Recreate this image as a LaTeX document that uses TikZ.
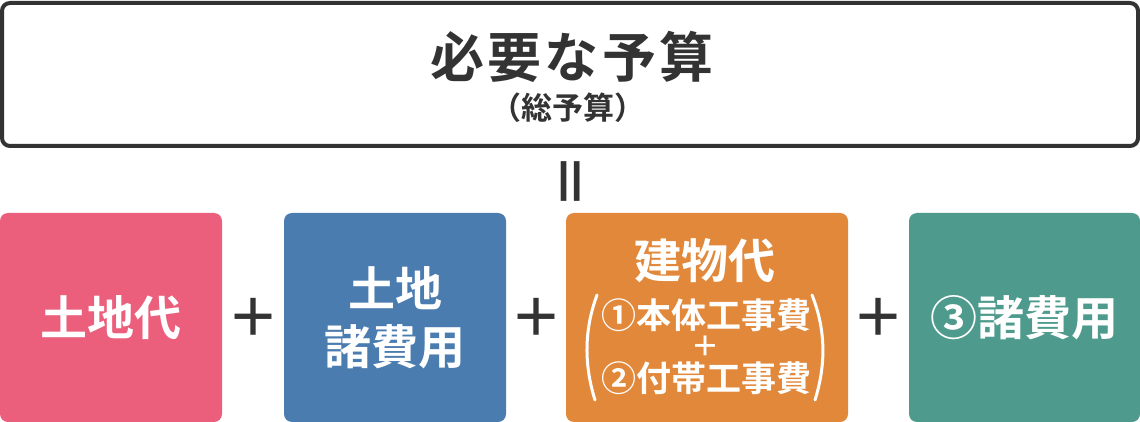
\documentclass[tikz,border=0pt]{standalone}
\usepackage{fontspec}
\setmainfont{Noto Sans CJK JP}[BoldFont={Noto Sans CJK JP Bold}]
\usetikzlibrary{calc}

\definecolor{ink}{HTML}{333333}
\definecolor{landpink}{HTML}{EC5F7C}
\definecolor{feeblue}{HTML}{4A7CB0}
\definecolor{bldgorange}{HTML}{E2883A}
\definecolor{miscgreen}{HTML}{4E9A8C}

\begin{document}
\begin{tikzpicture}[x=1pt, y=-1pt,
    costbox/.style={rectangle, rounded corners=8pt, minimum height=209pt, inner sep=0pt,
        text=white, align=center, font=\bfseries\fontsize{47}{58}\selectfont},
    plus/.style={text=ink, inner sep=0pt, font=\bfseries\fontsize{52}{52}\selectfont},
    workline/.style={text=white, inner sep=0pt, font=\bfseries\fontsize{35}{40}\selectfont},
    paren/.style={white, line width=3pt, line cap=round}]
\useasboundingbox (0,0) rectangle (1140,422);
% total budget
\node[draw=ink, line width=4pt, rounded corners=8pt, minimum width=1136pt, minimum height=143pt] (total) at (570,74.5) {};
\node[text=ink, inner sep=0pt, font=\bfseries\fontsize{54}{54}\selectfont\addfontfeatures{LetterSpace=6}] (title) at (572,57) {必要な予算};
\node[text=ink, inner sep=0pt, font=\bfseries\fontsize{31}{31}\selectfont] (subtitle) at (568,108) {（総予算）};
\node[plus, rotate=90, font=\bfseries\fontsize{56}{56}\selectfont] (equal) at (577,181) {＝};
% the four parts
\node[costbox, fill=landpink, minimum width=222pt] (land) at (111,317.5) {土地代};
\node[costbox, fill=feeblue, minimum width=222pt] (landfee) at (395,317.5) {土地\\諸費用};
\node[costbox, fill=bldgorange, minimum width=282pt] (building) at (707,317.5) {};
\node[costbox, fill=miscgreen, minimum width=231pt] (misc) at (1024.5,317.5) {③諸費用};
\foreach \a/\b in {land/landfee, landfee/building, building/misc} {
    \node[plus] (plus-\a) at ($(\a.east)!0.5!(\b.west)$) {＋};
}
% building cost detail
\node[costbox, minimum height=0pt] (bldgname) at (705,261) {建物代};
\node[workline] (mainwork) at (706,315) {①本体工事費};
\node[text=white, inner sep=0pt, font=\bfseries\fontsize{28}{28}\selectfont] (bldgplus) at (705,346) {＋};
\node[workline] (subwork) at (706,378) {②付帯工事費};
\draw[paren] (597,295) .. controls (584,330) and (584,365) .. (595,400);
\draw[paren] (812,295) .. controls (826,330) and (826,365) .. (815,400);
\end{tikzpicture}
\end{document}
